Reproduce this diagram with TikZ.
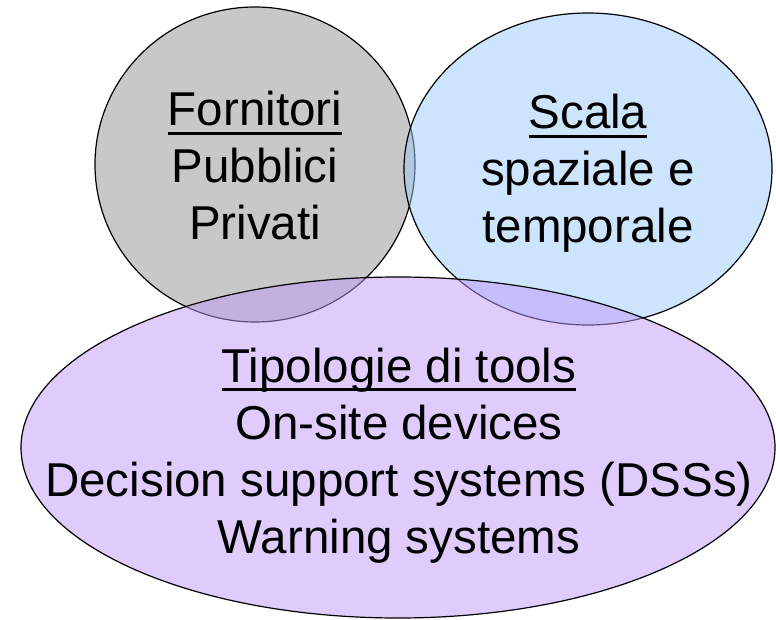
\documentclass[tikz,border=0pt]{standalone}
\usepackage{fontspec}
\setmainfont{Liberation Sans}
\usetikzlibrary{shapes.geometric}
\definecolor{greyfill}{RGB}{200,200,200}
\definecolor{bluefill}{RGB}{153,201,249}
\definecolor{purplefill}{RGB}{193,153,249}
\newcommand{\myul}[1]{\setbox0\hbox{#1}\rlap{\rule[-8.6pt]{\wd0}{2.6pt}}\box0}
\tikzset{
  set/.style={ellipse, draw=black, line width=1.2pt, inner sep=0pt, outer sep=0pt},
  txt/.style={align=center, inner sep=0pt, font=\fontsize{47.5}{57}\selectfont, anchor=base}
}
\begin{document}
\begin{tikzpicture}[x=1pt,y=-1pt]
\useasboundingbox (0,0) rectangle (776,620);
\node[set, fill=greyfill, minimum width=320pt, minimum height=315pt] (forn) at (255,164.5) {};
\node[set, fill=bluefill, fill opacity=0.5, minimum width=368pt, minimum height=312pt] (scala) at (588,169) {};
\node[set, fill=purplefill, fill opacity=0.5, minimum width=754pt, minimum height=341pt] (tipo) at (398,447.5) {};
\node[txt] (forntext) at (255,240) {\myul{Fornitori}\\Pubblici\\Privati};
\node[txt] (scalatext) at (588,243) {\myul{Scala}\\spaziale e\\temporale};
\node[txt] (tipotext) at (399,553) {\myul{Tipologie di tools}\\On-site devices\\Decision support systems (DSSs)\\Warning systems};
\end{tikzpicture}
\end{document}
